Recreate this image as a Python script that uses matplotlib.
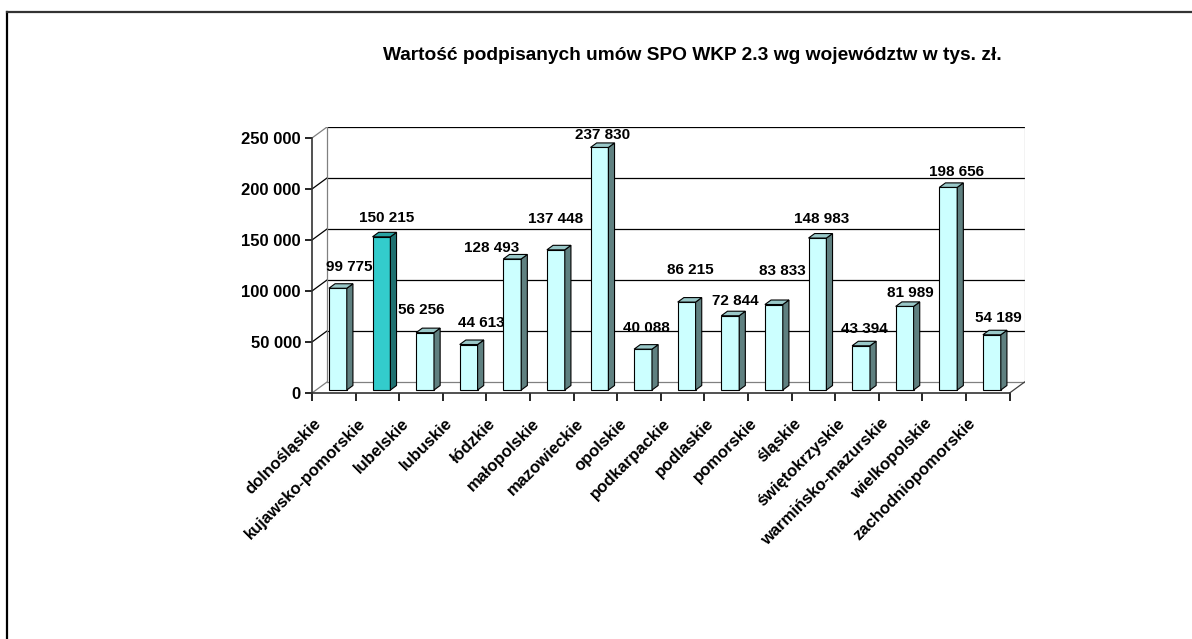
import matplotlib
matplotlib.use("Agg")
import matplotlib.pyplot as plt
import matplotlib.transforms as mtransforms
from matplotlib.patches import Polygon
from matplotlib.lines import Line2D

plt.rcParams['font.family'] = ['Liberation Sans', 'DejaVu Sans']
plt.rcParams['font.weight'] = 'bold'

# dane: wartość podpisanych umów wg województw (tys. zł)
wojewodztwa = ["dolnośląskie", "kujawsko-pomorskie", "lubelskie", "lubuskie",
               "łódzkie", "małopolskie", "mazowieckie", "opolskie",
               "podkarpackie", "podlaskie", "pomorskie", "śląskie",
               "świętokrzyskie", "warmińsko-mazurskie", "wielkopolskie",
               "zachodniopomorskie"]
wartosci = [99775, 150215, 56256, 44613, 128493, 137448, 237830, 40088,
            86215, 72844, 83833, 148983, 43394, 81989, 198656, 54189]
wyrozniony = "kujawsko-pomorskie"
y_ticks = [0, 50000, 100000, 150000, 200000, 250000]

# przesunięcia etykiet danych (piksele) względem szczytu słupka
etykiety_off = [(11, 21), (5, 19), (-4, 23), (13, 22), (-21, 11), (0, 31),
                (3, 12), (3, 21), (4, 32), (5, 15), (9, 34), (4, 19),
                (3, 17), (6, 13), (8, 15), (7, 17)]

W, H, DPI = 1192, 639, 100
n = len(wartosci)
ymax = 250000

# geometria "3D"
px_x = 43.6          # pikseli na kategorię
px_y = 255 / ymax    # pikseli na jednostkę
dx = 15 / px_x       # głębokość ściany w osi x
dy = 11 / px_y       # głębokość ściany w osi y
szer = 0.41
f_front = 0.27
f_depth = 0.41

fig = plt.figure(figsize=(W / DPI, H / DPI), dpi=DPI, facecolor='white')
x0, y0 = 312, 393
ax_w = (n + dx) * px_x
ax_h = (ymax + dy) * px_y
ax = fig.add_axes([x0 / W, (H - y0) / H, ax_w / W, ax_h / H])
ax.set_xlim(0, n + dx)
ax.set_ylim(0, ymax + dy)
ax.set_facecolor('none')

# ściany i siatka
szary = '#808080'
for v in y_ticks[1:-1]:
    ax.plot([dx, n + dx], [v + dy, v + dy], color='black', lw=0.9, zorder=1)
    ax.plot([0, dx], [v, v + dy], color='black', lw=0.9, zorder=1)
ax.plot([dx, n + dx], [ymax + dy, ymax + dy], color='black', lw=0.9, zorder=1)
ax.plot([0, dx], [ymax, ymax + dy], color=szary, lw=0.9, zorder=1)
ax.plot([dx, dx], [dy, ymax + dy], color=szary, lw=0.9, zorder=1)
ax.plot([n + dx, n + dx], [dy, ymax + dy], color='#a0a0a0', lw=0.9, zorder=1)
ax.plot([dx, n + dx], [dy, dy], color=szary, lw=0.9, zorder=1)
ax.plot([0, dx], [0, dy], color=szary, lw=0.9, zorder=1)
ax.plot([n, n + dx], [0, dy], color='#404040', lw=0.9, zorder=1)

# słupki
fx = f_front * dx
fy = f_front * dy
bx = f_depth * dx
by = f_depth * dy
for i, (nazwa, v) in enumerate(zip(wojewodztwa, wartosci)):
    if nazwa == wyrozniony:
        c_front, c_side, c_top = '#33cccc', '#1f7070', '#29a3a3'
    else:
        c_front, c_side, c_top = '#ccffff', '#5f8080', '#99c8c8'
    xc = i + 0.5 + fx
    xl, xr = xc - szer / 2, xc + szer / 2
    ax.bar(xc, v, width=szer, bottom=fy, color=c_front, edgecolor='black',
           linewidth=0.8, zorder=3)
    bok = Polygon([(xr, fy), (xr + bx, fy + by), (xr + bx, v + fy + by), (xr, v + fy)],
                  closed=True, facecolor=c_side, edgecolor='black', lw=0.8, zorder=3)
    gora = Polygon([(xl, v + fy), (xl + bx, v + fy + by), (xr + bx, v + fy + by), (xr, v + fy)],
                   closed=True, facecolor=c_top, edgecolor='black', lw=0.8, zorder=3)
    ax.add_patch(bok)
    ax.add_patch(gora)
    ox, oy = etykiety_off[i]
    ax.annotate(f"{v:,}".replace(",", " "), (xc, v + fy), xytext=(ox, oy),
                textcoords='offset pixels', ha='center', va='center',
                fontsize=11, fontweight='bold', zorder=5, annotation_clip=False)

# osie
for s in ['top', 'right']:
    ax.spines[s].set_visible(False)
ax.spines['left'].set_bounds(0, ymax)
ax.spines['bottom'].set_bounds(0, n)
ax.spines['left'].set_linewidth(1.2)
ax.spines['bottom'].set_linewidth(1.2)
ax.spines['left'].set_color('#333333')
ax.spines['bottom'].set_color('#333333')
ax.set_yticks(y_ticks)
ax.set_yticklabels([f"{v:,}".replace(",", " ") for v in y_ticks], fontsize=12,
                   fontweight='bold')
ax.tick_params(axis='y', direction='out', length=5, width=1.2, pad=3)
ax.set_xticks(range(n + 1))
ax.set_xticklabels([])
ax.tick_params(axis='x', which='major', direction='out', length=6, width=1.2)
ax.set_xticks([i + 0.5 for i in range(n)], minor=True)
ax.set_xticklabels(wojewodztwa, minor=True, rotation=45, ha='right', va='top',
                   rotation_mode='anchor', fontsize=12, fontweight='bold')
ax.tick_params(axis='x', which='minor', length=0, pad=12)
przes = mtransforms.ScaledTranslation(-20 / DPI, -6 / DPI, fig.dpi_scale_trans)
for lab in ax.get_xticklabels(minor=True):
    lab.set_transform(lab.get_transform() + przes)

fig.text(692 / W, 1 - 55 / H,
         "Wartość podpisanych umów SPO WKP 2.3 wg województw w tys. zł.",
         ha='center', va='center', fontsize=13.8, fontweight='bold')

# ramka wykresu
fig.add_artist(Line2D([7 / W, 7 / W], [0, 1 - 12 / H], color='black', lw=1.6,
                      transform=fig.transFigure))
fig.add_artist(Line2D([7 / W, 1], [1 - 12 / H, 1 - 12 / H], color='#333333', lw=1.6,
                      transform=fig.transFigure))

fig.savefig("out.png", dpi=DPI, facecolor='white')
